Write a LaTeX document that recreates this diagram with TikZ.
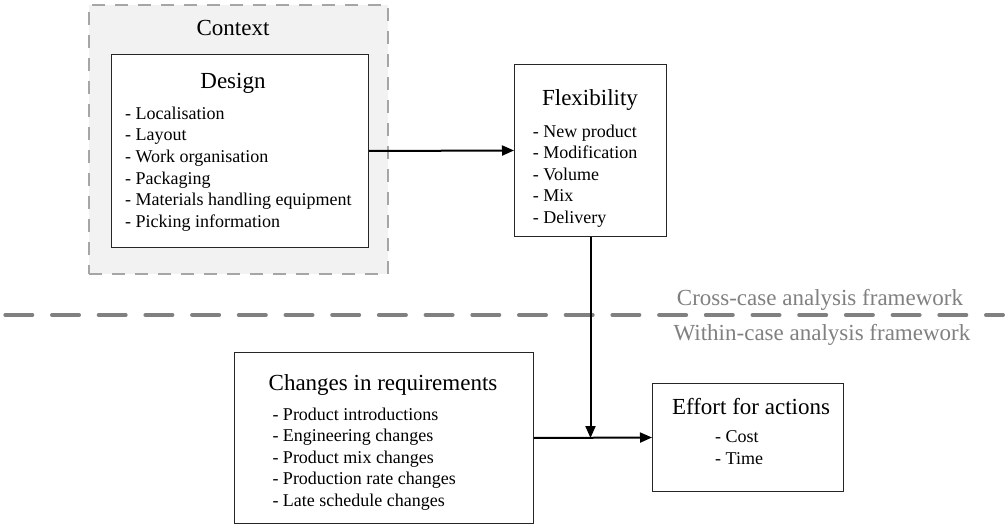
\documentclass[tikz,border=0pt]{standalone}
\usepackage{fontspec}
\setmainfont{Liberation Serif}
\usetikzlibrary{positioning,arrows.meta}
\tikzset{
>={Triangle[length=12pt,width=10pt]},
  panel/.style={
    rectangle,
    draw=black!85, line width=1pt,
    fill=white,
    inner sep=0pt,
    anchor=north west},
  contextpanel/.style={
    rectangle,
    draw=black!35, line width=2pt,
    dash pattern=on 13pt off 10pt,
    fill=black!5,
    inner sep=0pt,
    anchor=north west},
  heading/.style={font=\fontsize{23}{27}\selectfont, inner sep=0pt, anchor=base},
  listitem/.style={font=\fontsize{18}{22}\selectfont, inner sep=0pt, anchor=base west},
  framelabel/.style={font=\fontsize{23}{27}\selectfont, text=black!50, inner sep=0pt, anchor=base},
  myarrow/.style={draw, line width=2pt, ->},
  divider/.style={draw=black!50, line width=4pt, line cap=round, dash pattern=on 27pt off 19.7pt},
}

\begin{document}
\begin{tikzpicture}[x=1pt, y=-1pt]
      \useasboundingbox (0,0) rectangle (1005,524);

      % context and design
      \node[contextpanel, minimum width=299pt, minimum height=269pt] (ContextBox) at (88,4) {};
      \node[heading] (ContextTitle) at (233,35.5) {Context};
      \node[panel, minimum width=257pt, minimum height=193pt] (DesignBox) at (111,54) {};
      \node[heading] (DesignTitle) at (233,89) {Design};
      \foreach \txt [count=\i] in {Localisation, Layout, Work organisation, Packaging, Materials handling equipment, Picking information}
        \node[listitem] (DesignItem\i) at (125,{119.3+21.6*(\i-1)}) {- \txt};

      % flexibility
      \node[panel, minimum width=152pt, minimum height=172pt] (FlexBox) at (514,64) {};
      \node[heading] (FlexTitle) at (590,106) {Flexibility};
      \foreach \txt [count=\i] in {New product, Modification, Volume, Mix, Delivery}
        \node[listitem] (FlexItem\i) at (532.7,{137.3+21.5*(\i-1)}) {- \txt};

      % frameworks
      \coordinate (DivLeft) at (5.3,315);
      \coordinate (DivRight) at (1003,315);
      \path[divider] (DivLeft) -- (DivRight);
      \node[framelabel] (CrossLabel) at (820,305) {Cross-case analysis framework};
      \node[framelabel] (WithinLabel) at (822,340) {Within-case analysis framework};

      % changes and effort
      \node[panel, minimum width=299pt, minimum height=171pt] (ChangesBox) at (234,352) {};
      \node[heading] (ChangesTitle) at (383,390.7) {Changes in requirements};
      \foreach \txt [count=\i] in {Product introductions, Engineering changes, Product mix changes, Production rate changes, Late schedule changes}
        \node[listitem] (ChangesItem\i) at (272.3,{420+21.5*(\i-1)}) {- \txt};
      \node[panel, minimum width=191pt, minimum height=108pt] (EffortBox) at (652,383) {};
      \node[heading] (EffortTitle) at (751,414) {Effort for actions};
      \node[listitem] (EffortItem1) at (715,442.3) {- Cost};
      \node[listitem] (EffortItem2) at (715,464) {- Time};

      \coordinate (Join) at (FlexBox.south |- ChangesBox.east);
      \path[myarrow] (DesignBox.east) -- (FlexBox.west);
      \path[myarrow] (FlexBox.south) -- (Join);
      \path[myarrow] (ChangesBox.east) -- (EffortBox.west);

\end{tikzpicture}
\end{document}
